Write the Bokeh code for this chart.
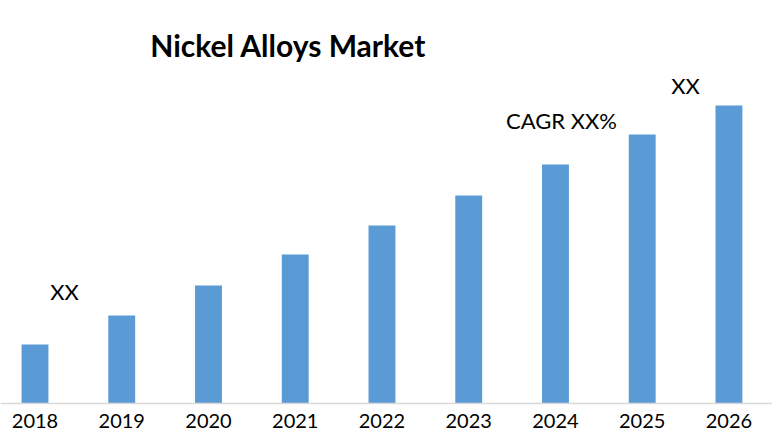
from bokeh.plotting import figure
from bokeh.models import ColumnDataSource, Range1d, FixedTicker
from bokeh.core.properties import value
from bokeh.embed import file_html
from bokeh.resources import INLINE

years = ["2018", "2019", "2020", "2021", "2022", "2023", "2024", "2025", "2026"]
market = [59, 88, 118, 149, 178, 208, 239, 269, 298]

ann_text = ["XX", "CAGR XX%", "XX"]
ann_x = [0.34, 6.07, 7.50]
ann_y = [112, 283, 318]

title_text = ["Nickel Alloys Market"]
title_x = [2.92]
title_y = [359]

FONT = "Lato"

idx = list(range(len(years)))
src = ColumnDataSource(dict(x=idx, top=market))

p = figure(width=772, height=432, output_backend="svg", toolbar_location=None,
           x_range=Range1d(-0.3977, 8.502), y_range=Range1d(-29, 403),
           min_border_left=0, min_border_right=0, min_border_top=0, min_border_bottom=0)
p.outline_line_color = None
p.grid.visible = False
p.yaxis.visible = False
p.background_fill_color = "white"
p.border_fill_color = "white"

p.vbar(x="x", top="top", width=0.31, bottom=0, source=src,
       fill_color="#5B9BD5", line_color=None)

ax = p.xaxis[0]
ax.fixed_location = 0
ax.ticker = FixedTicker(ticks=idx)
ax.major_label_overrides = {i: y for i, y in zip(idx, years)}
ax.axis_line_color = "#D9D9D9"
ax.axis_line_width = 1.5
ax.major_tick_line_color = None
ax.minor_tick_line_color = None
ax.major_label_text_font = FONT
ax.major_label_text_font_size = "20px"
ax.major_label_text_color = "#000000"
ax.major_label_standoff = 4

p.text(x=ann_x, y=ann_y, text=ann_text, text_font=value(FONT), text_font_size="22px",
       text_color="#000000", text_align="center", text_baseline="middle")
p.text(x=title_x, y=title_y, text=title_text, text_font=value(FONT), text_font_size="30px",
       text_font_style="bold", text_color="#000000", text_align="center", text_baseline="middle")

open("out.html", "w").write(file_html(p, INLINE))
